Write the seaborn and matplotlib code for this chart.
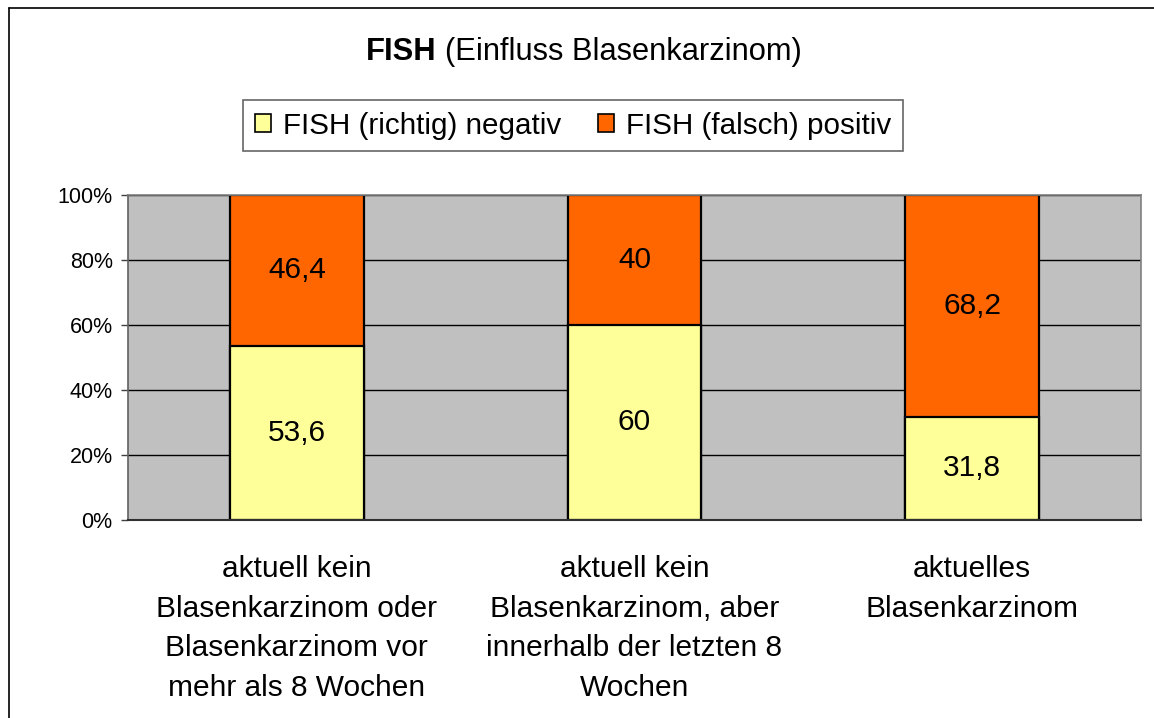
import matplotlib
matplotlib.use("Agg")
import matplotlib.pyplot as plt
import seaborn as sns
import pandas as pd
from matplotlib.lines import Line2D
from matplotlib.patches import Patch

categories = [
    "aktuell kein\nBlasenkarzinom oder\nBlasenkarzinom vor\nmehr als 8 Wochen",
    "aktuell kein\nBlasenkarzinom, aber\ninnerhalb der letzten 8\nWochen",
    "aktuelles\nBlasenkarzinom",
]
neg_values = [53.6, 60, 31.8]
pos_values = [46.4, 40, 68.2]
neg_labels = ["53,6", "60", "31,8"]
pos_labels = ["46,4", "40", "68,2"]
series_names = ["FISH (richtig) negativ", "FISH (falsch) positiv"]
y_ticks = [0, 20, 40, 60, 80, 100]
y_ticklabels = ["0%", "20%", "40%", "60%", "80%", "100%"]

YELLOW = "#FFFF99"
ORANGE = "#FF6600"
GRAY = "#C0C0C0"

sns.set_style("white")
plt.rcParams["font.family"] = ["Liberation Sans", "DejaVu Sans"]
plt.rcParams["text.color"] = "black"
plt.rcParams["xtick.color"] = "black"
plt.rcParams["ytick.color"] = "black"
plt.rcParams["axes.labelcolor"] = "black"

W, H = 1154, 718
fig = plt.figure(figsize=(W / 100, H / 100), dpi=100)
fig.patch.set_facecolor("white")

left, right, top, bottom = 128, 1141, 195, 520
ax = fig.add_axes([left / W, 1 - bottom / H, (right - left) / W, (bottom - top) / H])
ax.set_facecolor(GRAY)

df = pd.DataFrame({
    "cat": categories,
    "neg": neg_values,
    "pos": pos_values,
})
df["total"] = df["neg"] + df["pos"]

sns.barplot(data=df, x="cat", y="total", order=categories, color=ORANGE,
            saturation=1, width=0.395, edgecolor="black", linewidth=1.6, ax=ax, zorder=3)
sns.barplot(data=df, x="cat", y="neg", order=categories, color=YELLOW,
            saturation=1, width=0.395, edgecolor="black", linewidth=1.6, ax=ax, zorder=4)

for i, (n, p) in enumerate(zip(neg_values, pos_values)):
    ax.text(i, n / 2, neg_labels[i], ha="center", va="center", fontsize=21.5, color="black", zorder=5)
    ax.text(i, n + p / 2, pos_labels[i], ha="center", va="center", fontsize=21.5, color="black", zorder=5)

ax.set_xlim(-0.5, 2.5)
ax.set_ylim(0, 100)
ax.set_yticks(y_ticks)
ax.set_yticklabels(y_ticklabels, fontsize=15.5, color="black")
ax.yaxis.grid(True, color="black", linewidth=1)
ax.xaxis.grid(False)
ax.set_axisbelow(True)
ax.set_xlabel("")
ax.set_ylabel("")

ax.set_xticks([0, 1, 2])
ax.set_xticklabels(categories, fontsize=21.5, linespacing=1.54, color="black")
ax.set_xticks([-0.5, 0.5, 1.5, 2.5], minor=True)
ax.tick_params(axis="x", which="major", length=0, pad=25)
ax.tick_params(axis="x", which="minor", length=7.5, width=1, color="#404040", direction="out")
ax.tick_params(axis="y", which="major", length=5, width=1, color="#404040", direction="out", pad=6, left=True)

for s in ["top", "right"]:
    ax.spines[s].set_color("#808080")
    ax.spines[s].set_linewidth(1.2)
ax.spines["left"].set_color("#606060")
ax.spines["left"].set_linewidth(1.2)
ax.spines["bottom"].set_color("#303030")
ax.spines["bottom"].set_linewidth(1.5)
for s in ax.spines.values():
    s.set_zorder(6)

# Title (bold part + regular part)
fig.text(436 / W, 1 - 52 / H, "FISH", fontsize=22.2, fontweight="bold", ha="right", va="center")
fig.text(445 / W, 1 - 52 / H, "(Einfluss Blasenkarzinom)", fontsize=22.2, ha="left", va="center")

# Legend
handles = [Patch(facecolor=YELLOW, edgecolor="black", linewidth=1.2),
           Patch(facecolor=ORANGE, edgecolor="black", linewidth=1.2)]
leg = fig.legend(handles, series_names, loc="center", bbox_to_anchor=(573 / W, 1 - 125.5 / H),
                 ncol=2, fontsize=21.3, frameon=True, fancybox=False, shadow=False,
                 handlelength=0.55, handleheight=0.55, handletextpad=0.4, columnspacing=1.25,
                 borderpad=0.4, borderaxespad=0)
leg.get_frame().set_edgecolor("#404040")
leg.get_frame().set_linewidth(1.2)

# Outer chart border (left and top visible)
fig.add_artist(Line2D([9 / W, 9 / W], [0, 1 - 8 / H], color="black", linewidth=1.2))
fig.add_artist(Line2D([9 / W, 1], [1 - 8 / H, 1 - 8 / H], color="black", linewidth=1.2))

fig.savefig("out.png", dpi=100, facecolor="white")
